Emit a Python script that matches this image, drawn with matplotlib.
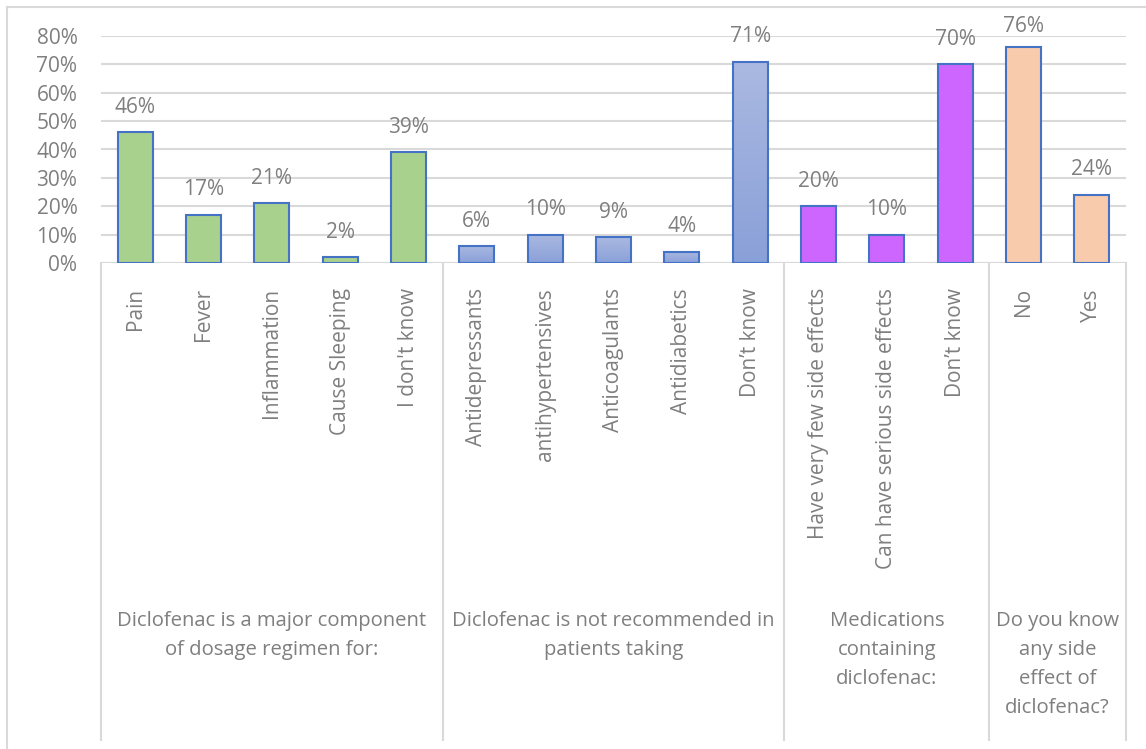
import numpy as np
import matplotlib
matplotlib.use("Agg")
import matplotlib.pyplot as plt
from matplotlib.lines import Line2D
from matplotlib.colors import LinearSegmentedColormap

plt.rcParams['font.family'] = ['Open Sans', 'DejaVu Sans']

# ---------------- data ----------------
labels = ["Pain", "Fever", "Inflammation", "Cause Sleeping", "I don't know",
          "Antidepressants", "antihypertensives", "Anticoagulants", "Antidiabetics", "Don\u2019t know",
          "Have very few side effects", "Can have serious side effects", "Don\u2019t know",
          "No", "Yes"]
values = [0.46, 0.17, 0.21, 0.02, 0.39,
          0.06, 0.10, 0.09, 0.04, 0.71,
          0.20, 0.10, 0.70,
          0.76, 0.24]
group_names = ["Diclofenac is a major component\nof dosage regimen for:",
               "Diclofenac is not recommended in\npatients taking",
               "Medications\ncontaining\ndiclofenac:",
               "Do you know\nany side\neffect of\ndiclofenac?"]
group_sizes = [5, 5, 3, 2]
group_colors = ["#A9D18E", "#A3B3DF", "#CC66FF", "#F8CBAD"]

text_grey = "#7F7F7F"
grid_grey = "#D9D9D9"
edge_blue = "#4472C4"

fig = plt.figure(figsize=(11.46, 7.49), dpi=100)
ax = fig.add_axes([101/1146, 1-263/749, (1126-101)/1146, (263-36)/749])

x = np.arange(len(values))
cols = []
for c, n in zip(group_colors, group_sizes):
    cols += [c]*n
bars = ax.bar(x, values, width=0.51, color=cols, edgecolor=edge_blue, linewidth=1.5, zorder=3)

# gradient fill for the second group
grad = LinearSegmentedColormap.from_list("g", ["#8AA0D8", "#AAB9E1"])
start = group_sizes[0]
for b in list(bars)[start:start+group_sizes[1]]:
    x0, w, h = b.get_x(), b.get_width(), b.get_height()
    im = ax.imshow(np.linspace(0, 1, 100).reshape(-1, 1), cmap=grad, origin='lower',
                   extent=[x0, x0+w, 0, h], aspect='auto', zorder=3.5)
    im.set_clip_path(b)
    b.set_facecolor("none")
    b.set_zorder(4)

for xi, v in zip(x, values):
    ax.text(xi, min(v + 0.088, 0.832), f"{v*100:.0f}%", ha='center', va='center',
            fontsize=15, color=text_grey)

ax.set_xlim(-0.5, len(values)-0.5)
ax.set_ylim(0, 0.8)
ax.set_yticks(np.arange(0, 0.81, 0.1))
ax.set_yticklabels([f"{t}%" for t in range(0, 81, 10)])
ax.tick_params(axis='y', length=0, labelsize=15, labelcolor=text_grey, pad=17)
ax.yaxis.grid(True, color=grid_grey, linewidth=1.5, zorder=0)
ax.set_axisbelow(True)
for s in ax.spines.values():
    s.set_visible(False)

ax.set_xticks(x)
ax.set_xticklabels(labels, rotation=90, fontsize=15, color=text_grey)
ax.tick_params(axis='x', length=0, pad=18)

# category axis line and group dividers
ax.axhline(0, color=grid_grey, linewidth=1.5, zorder=2)
trans = ax.get_xaxis_transform()
ybot = -(740-263)/227
edges = np.concatenate([[0], np.cumsum(group_sizes)]) - 0.5
for e in edges:
    ax.add_line(Line2D([e, e], [0, ybot], transform=trans, color=grid_grey, linewidth=1.5, clip_on=False))
for i, name in enumerate(group_names):
    cx = (edges[i] + edges[i+1]) / 2
    ax.text(cx, -(611-263)/227, name, transform=trans, ha='center', va='top',
            fontsize=14.6, color=text_grey, linespacing=1.6)

# outer chart border
fig.add_artist(Line2D([7/1146, 7/1146], [0, 1-7/749], transform=fig.transFigure, color=grid_grey, linewidth=1.5))
fig.add_artist(Line2D([7/1146, 1], [1-7/749, 1-7/749], transform=fig.transFigure, color=grid_grey, linewidth=1.5))

fig.savefig("out.png", dpi=100, facecolor="white")
